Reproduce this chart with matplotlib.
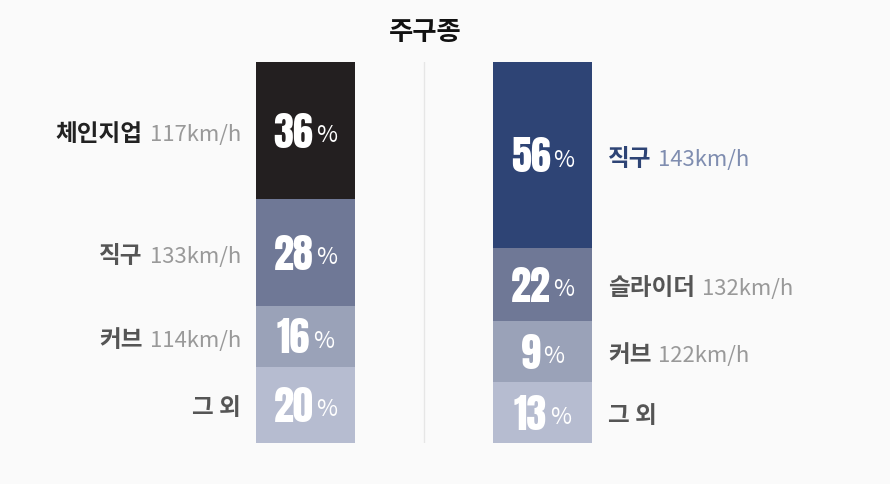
import matplotlib
matplotlib.use("Agg")
import matplotlib.pyplot as plt
import matplotlib.transforms as mtransforms

# ---- data ----
title = "주구종"
left_pitches = ["체인지업", "직구", "커브", "그 외"]
left_shares = [36, 28, 16, 20]
left_speeds = ["117km/h", "133km/h", "114km/h", ""]
right_pitches = ["직구", "슬라이더", "커브", "그 외"]
right_shares = [56, 22, 9, 13]
right_speeds = ["143km/h", "132km/h", "122km/h", ""]

left_colors = ["#231f20", "#6f7896", "#9aa2b8", "#b6bcd0"]
right_colors = ["#2e4475", "#6f7896", "#9aa2b8", "#b6bcd0"]
left_name_colors = ["#222222", "#555555", "#555555", "#555555"]
right_name_colors = ["#2e4475", "#555555", "#555555", "#555555"]
left_speed_colors = ["#999999"] * 4
right_speed_colors = ["#7f8db0", "#999999", "#999999", "#999999"]

MIN_SHARE = 16  # small segments are shown with a minimum height


def display_heights(shares, min_share=MIN_SHARE):
    fixed = sum(min_share for s in shares if s < min_share)
    rest = sum(s for s in shares if s >= min_share)
    return [min_share if s < min_share else s * (100 - fixed) / rest for s in shares]


KR = ["Noto Sans CJK KR", "DejaVu Sans"]
NUM = ["Anton", "Oswald", "IBM Plex Sans Condensed", "DejaVu Sans"]

W, H = 890, 484
fig = plt.figure(figsize=(W / 100, H / 100), dpi=100, facecolor="#fafafa")
top_px, bot_px = 62, 443
ax = fig.add_axes([0, (H - bot_px) / H, 1, (bot_px - top_px) / H])
ax.set_facecolor("#fafafa")
c0, c1 = 305.5, 542.5
unit = c1 - c0
ax.set_xlim(-c0 / unit, 1 + (W - c1) / unit)
ax.set_ylim(100, 0)
ax.axis("off")
bw = 99 / unit

# divider
ax.axvline((424 - c0) / unit, ymin=0, ymax=1, color="#e6e6e6", lw=1)

fig.text(425 / W, 1 - 33 / H, title, ha="center", va="center",
         fontsize=19, fontweight="bold", family=KR, color="#111111")

fig.canvas.draw()
renderer = fig.canvas.get_renderer()


def off(dx, dy):
    return mtransforms.offset_copy(ax.transData, fig=fig, x=dx, y=dy, units="dots")


def width(t):
    return t.get_window_extent(renderer).width


def draw_bar(xpos, shares, colors, names, speeds, name_colors, speed_colors, side):
    heights = display_heights(shares)
    start = 0
    for share, h, col, name, spd, nc, sc in zip(shares, heights, colors, names,
                                                 speeds, name_colors, speed_colors):
        ax.bar(xpos, h, bottom=start, width=bw, color=col, linewidth=0)
        cy = start + h / 2
        # percentage
        tn = ax.text(xpos, cy, str(share), ha="left", va="baseline",
                     fontsize=29, family=NUM, color="white")
        tp = ax.text(xpos, cy, "%", ha="left", va="baseline",
                     fontsize=16.5, family=KR, color="white")
        wn, wp = width(tn), width(tp)
        gap = 3
        total = wn + gap + wp
        tn.set_transform(off(-total / 2, -17))
        tp.set_transform(off(-total / 2 + wn + gap, -11.5))
        # labels
        if side == "left":
            edge = xpos - bw / 2
            ts = ax.text(edge, cy, spd, ha="right", va="baseline", fontsize=15.9,
                         family=KR, color=sc)
            ts.set_transform(off(-15, -10.5))
            ws = width(ts) + 7 if spd else 0
            tname = ax.text(edge, cy, name, ha="right", va="baseline", fontsize=17,
                            fontweight="bold", family=KR, color=nc)
            tname.set_transform(off(-15 - ws, -10.5))
        else:
            edge = xpos + bw / 2
            tname = ax.text(edge, cy, name, ha="left", va="baseline", fontsize=17,
                            fontweight="bold", family=KR, color=nc)
            tname.set_transform(off(16, -10.5))
            wname = width(tname)
            ts = ax.text(edge, cy, spd, ha="left", va="baseline", fontsize=15.9,
                         family=KR, color=sc)
            ts.set_transform(off(16 + wname + 7, -10.5))
        start += h


draw_bar(0, left_shares, left_colors, left_pitches, left_speeds,
         left_name_colors, left_speed_colors, "left")
draw_bar(1, right_shares, right_colors, right_pitches, right_speeds,
         right_name_colors, right_speed_colors, "right")

fig.savefig("out.png", dpi=100, facecolor=fig.get_facecolor())
